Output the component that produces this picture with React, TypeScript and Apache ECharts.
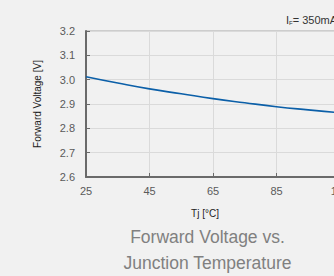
import React, { useEffect, useRef } from "react";
import * as echarts from "echarts";

const temps = [25, 35, 45, 55, 65, 75, 85, 95, 105, 115, 125];
const voltage = [3.012, 2.986, 2.962, 2.942, 2.922, 2.905, 2.889, 2.876, 2.864, 2.853, 2.843];
const xTicks = [25, 45, 65, 85, 105, 125];
const yName = "Forward Voltage [V]";
const xName = "Tj [°C]";
const titleLines = ["Forward Voltage vs.", "Junction Temperature"];

export default function App() {
  const ref = useRef<HTMLDivElement>(null);
  useEffect(() => {
    if (!ref.current) return;
    const chart = echarts.init(ref.current, null, { renderer: "svg" });
    const font = "'Liberation Sans', Arial, Helvetica, sans-serif";
    chart.setOption({
      animation: false,
      backgroundColor: "#f1f1f1",
      textStyle: { fontFamily: font },
      grid: {
        left: 86,
        top: 31,
        width: 317.5,
        height: 146,
        show: true,
        borderColor: "#a8a8a8",
        borderWidth: 1,
        backgroundColor: "transparent",
      },
      xAxis: {
        type: "value",
        min: xTicks[0],
        max: xTicks[xTicks.length - 1],
        interval: 20,
        axisLine: { show: true, lineStyle: { color: "#6a6a6a", width: 2 } },
        axisTick: { show: true, inside: true, length: 4, lineStyle: { color: "#6a6a6a" } },
        splitLine: { show: true, lineStyle: { color: "#dadada", width: 1 } },
        axisLabel: { color: "#5a5a5a", fontSize: 11, margin: 8, fontFamily: font },
      },
      yAxis: {
        type: "value",
        min: 2.6,
        max: 3.2,
        interval: 0.1,
        axisLine: { show: true, lineStyle: { color: "#6a6a6a", width: 2 } },
        axisTick: { show: true, inside: true, length: 4, lineStyle: { color: "#6a6a6a" } },
        splitLine: { show: true, lineStyle: { color: "#dadada", width: 1 } },
        axisLabel: {
          color: "#5a5a5a",
          fontSize: 11,
          margin: 11,
          fontFamily: font,
          formatter: (v: number) => v.toFixed(1),
        },
        name: yName,
        nameLocation: "middle",
        nameGap: 44,
        nameRotate: 90,
        nameTextStyle: { color: "#222", fontSize: 10, fontFamily: font },
      },
      graphic: [
        {
          type: "text",
          x: 205,
          y: 213,
          style: {
            text: xName,
            fill: "#222",
            font: `10px ${font}`,
            textAlign: "center",
            textVerticalAlign: "middle",
          },
        },
        {
          type: "text",
          x: 207.5,
          y: 237,
          style: {
            text: titleLines[0],
            fill: "#808080",
            font: `17.5px ${font}`,
            textAlign: "center",
            textVerticalAlign: "middle",
          },
        },
        {
          type: "text",
          x: 207.5,
          y: 263,
          style: {
            text: titleLines[1],
            fill: "#808080",
            font: `17.5px ${font}`,
            textAlign: "center",
            textVerticalAlign: "middle",
          },
        },
        {
          type: "text",
          x: 286,
          y: 20,
          style: {
            text: "{i|I}{s|F}{n|= 350mA}",
            textVerticalAlign: "middle",
            rich: {
              i: { fontSize: 11, fill: "#333", fontFamily: font },
              s: { fontSize: 6, fill: "#333", fontFamily: font, verticalAlign: "bottom", padding: [3, 0, 0, 0] },
              n: { fontSize: 11, fill: "#333", fontFamily: font },
            },
          },
        },
      ],
      series: [
        {
          type: "line",
          data: temps.map((t, i) => [t, voltage[i]]),
          smooth: true,
          showSymbol: false,
          lineStyle: { color: "#0b5fa8", width: 1.6 },
        },
      ],
    });
    return () => chart.dispose();
  }, []);
  return (
    <div
      style={{
        position: "fixed",
        left: 0,
        top: 0,
        width: 334,
        height: 276,
        overflow: "hidden",
        background: "#f1f1f1",
      }}
    >
      <div ref={ref} style={{ width: 460, height: 276 }} />
    </div>
  );
}
